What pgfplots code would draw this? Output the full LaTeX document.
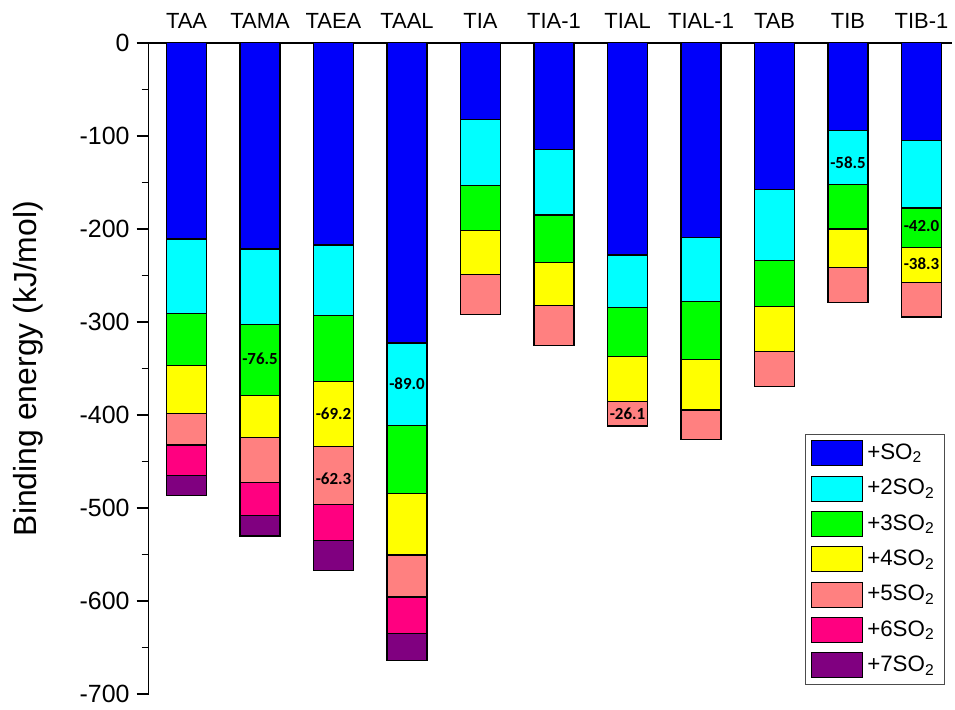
\documentclass[border=0pt]{standalone}
\usepackage{fontspec}
\setmainfont{Liberation Sans}
\setsansfont{Carlito}
\usepackage{pgfplots}
\usepackage{pgfplotstable}
\pgfplotsset{compat=1.18}
\definecolor{cBlue}{RGB}{0,0,250}
\definecolor{cCyan}{RGB}{0,255,255}
\definecolor{cGreen}{RGB}{0,255,0}
\definecolor{cYellow}{RGB}{255,255,0}
\definecolor{cSalmon}{RGB}{255,128,128}
\definecolor{cPink}{RGB}{255,0,128}
\definecolor{cPurple}{RGB}{128,0,128}
\tikzset{dlbl/.style={font=\sffamily\bfseries\fontsize{8.5}{9}\selectfont, text=black, inner sep=0pt}}
\pgfplotstableread{
x s1 s2 s3 s4 s5 s6 s7
0 -210.8 -80.3 -55.4 -52.1 -33.6 -33.2 -21.0
1 -221.5 -81.4 -76.5 -44.9 -48.2 -35.8 -21.7
2 -217.2 -75.7 -71.4 -69.2 -62.3 -39.3 -31.7
3 -322.5 -89.0 -72.5 -66.4 -45.3 -39.3 -28.6
4 -82.2 -71.4 -48.3 -46.7 -43.6 0 0
5 -114.3 -70.7 -50.7 -46.5 -42.9 0 0
6 -227.9 -56.8 -52.8 -48.2 -26.1 0 0
7 -208.9 -69.0 -62.1 -54.7 -31.4 0 0
8 -157.2 -77.1 -49.0 -48.2 -37.5 0 0
9 -94.0 -58.5 -47.5 -41.8 -37.5 0 0
10 -105.0 -72.5 -42.0 -38.3 -36.8 0 0
}\data
\begin{document}
\begin{tikzpicture}
\begin{axis}[
  name=ax,
  scale only axis,
  width=403pt, height=326.5pt,
  ybar stacked, bar width=20pt,
  xmin=-0.516, xmax=10.42,
  ymin=-700, ymax=0,
  axis x line*=top, axis y line*=left,
  axis line style={line width=0.9pt, black},
  xtick={0,...,10},
  xticklabels={TAA,TAMA,TAEA,TAAL,TIA,TIA-1,TIAL,TIAL-1,TAB,TIB,TIB-1},
  x tick style={draw=none},
  xticklabel style={font=\fontsize{11}{13}\selectfont},
  xticklabel shift=-2.5pt,
  ytick={0,-100,-200,-300,-400,-500,-600,-700},
  minor y tick num=1,
  tick align=outside,
  major tick length=6pt, minor tick length=3.5pt,
  y tick style={line width=0.8pt, black},
  yticklabel style={font=\fontsize{12.5}{14}\selectfont},
  /pgf/number format/assume math mode=true,
  ylabel={Binding energy (kJ/mol)},
  ylabel style={font=\fontsize{16}{19}\selectfont, at={(axis description cs:-0.150,0.5)}, anchor=center},
  every axis plot/.append style={draw=black, line width=0.6pt},
  legend image code/.code={\draw[#1] (0pt,-6.25pt) rectangle (25.5pt,6.25pt);},
  legend style={at={(0.991,0.0138)}, anchor=south east, draw=black!70, line width=0.5pt,
    font=\fontsize{11.2}{12}\selectfont, row sep=4.4pt, inner sep=3pt},
  legend cell align=left,
]
\addplot[fill=cBlue] table[x=x,y=s1]{\data};
\addplot[fill=cCyan] table[x=x,y=s2]{\data};
\addplot[fill=cGreen] table[x=x,y=s3]{\data};
\addplot[fill=cYellow] table[x=x,y=s4]{\data};
\addplot[fill=cSalmon] table[x=x,y=s5]{\data};
\addplot[fill=cPink] table[x=x,y=s6]{\data};
\addplot[fill=cPurple] table[x=x,y=s7]{\data};
\legend{+SO\textsubscript{2},+2SO\textsubscript{2},+3SO\textsubscript{2},+4SO\textsubscript{2},+5SO\textsubscript{2},+6SO\textsubscript{2},+7SO\textsubscript{2}}
\coordinate (L1) at (axis cs:1,-339.3);
\coordinate (L2) at (axis cs:2,-398.3);
\coordinate (L3) at (axis cs:2,-468.6);
\coordinate (L4) at (axis cs:3,-366.8);
\coordinate (L5) at (axis cs:6,-398.6);
\coordinate (L6) at (axis cs:9,-129.3);
\coordinate (L7) at (axis cs:10,-196.5);
\coordinate (L8) at (axis cs:10,-237.5);
\end{axis}
\node[dlbl] at (L1) {-76.5};
\node[dlbl] at (L2) {-69.2};
\node[dlbl] at (L3) {-62.3};
\node[dlbl] at (L4) {-89.0};
\node[dlbl] at (L5) {-26.1};
\node[dlbl] at (L6) {-58.5};
\node[dlbl] at (L7) {-42.0};
\node[dlbl] at (L8) {-38.3};
\path ([shift={(-74.5pt,-5.5pt)}]ax.south west) rectangle ([shift={(403pt,348pt)}]ax.south west);
\end{tikzpicture}
\end{document}
